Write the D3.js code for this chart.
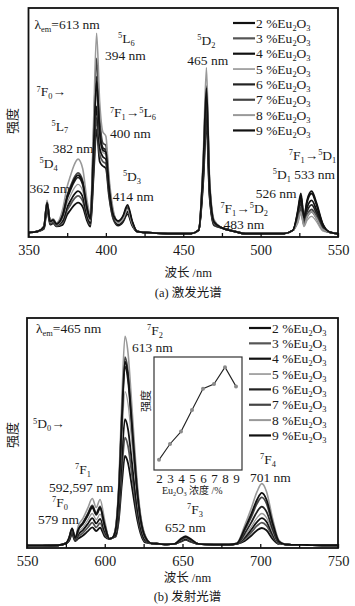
<!DOCTYPE html>
<html>
<head>
<meta charset="utf-8">
<script src="https://cdn.jsdelivr.net/npm/d3@7"></script>
<style>
body { margin: 0; background: #fff; }
svg text { font-family: "Liberation Serif", "Noto Sans CJK SC", serif; fill: #1a1a1a; }
</style>
</head>
<body>
<script>
// legend labels, same for both panels
var seriesLabels = ["2 %Eu_2O_3", "3 %Eu_2O_3", "4 %Eu_2O_3", "5 %Eu_2O_3",
                    "6 %Eu_2O_3", "7 %Eu_2O_3", "8 %Eu_2O_3", "9 %Eu_2O_3"];

// (a) excitation spectra
var excWavelength = [350,356,360,362,364,366,368,372,375,377,379,382,385,388,390,392,394,396,398,400,402,405,408,411,414,417,420,425,440,455,460,463,465,467,470,475,483,490,515,521,524,526,528,530,533,536,540,545,550];
var excS2 = [2,2.5,3.6,12,5.4,6,4.6,5.3,9.8,11.7,13.5,15,13.2,6.8,4.5,25.9,47,33,31,30,18,7.5,5,6.5,10,5,2.5,2,1.5,1.5,3,25,50,17.5,5,4,2.5,1.5,1.5,3,10.8,18,8.1,15.2,19,14.3,5.7,2,1.5];
var excS3 = [2,2.5,3.9,13,5.9,6.5,4.9,6.3,11.7,14,16.2,18,15.8,8.1,5.4,28.6,52,36,33,32,19.2,8,5.5,7.2,11,5.5,2.5,2,1.5,1.5,3,26.5,53,18.6,5.3,4,2.5,1.5,1.5,3,7.2,12,5.4,8.8,11,8.3,3.3,2,1.5];
var excS4 = [2,2.5,4.2,14,6.3,7,5.3,7,13,15.6,18,20,17.6,9,6,31.4,57,39,35,34,20.4,8.5,5.5,7.2,11,5.5,2.5,2,1.5,1.5,3,28,56,19.6,5.6,4,2.5,1.5,1.5,3,9.6,16,7.2,12.8,16,12,4.8,2,1.5];
var excS5 = [2,2.5,4.2,14,6.3,7,5.3,8,15,17.9,20.7,23,20.2,10.4,6.9,34.7,63,43,37,36,21.6,9,6,7.8,12,6,2.5,2,1.5,1.5,3,29.5,59,20.7,5.9,4,2.5,1.5,1.5,3,6,10,4.5,7.2,9,6.8,2.7,2,1.5];
var excS6 = [2,2.5,4.5,15,6.8,7.5,5.7,9.1,16.9,20.3,23.4,26,22.9,11.7,7.8,38.5,70,47,39,38,22.8,9.5,6.5,8.5,13,6.5,2.5,2,1.5,1.5,3,31,62,21.7,6.2,4,2.5,1.5,1.5,3,9,15,6.8,11.2,14,10.5,4.2,2,1.5];
var excS7 = [2,2.5,4.5,15,6.8,7.5,5.7,9.8,18.2,21.8,25.2,28,24.6,12.6,8.4,42.9,78,52,41,40,24,10,6.5,8.5,13,6.5,2.5,2,1.5,1.5,3,33,66,23.1,6.6,4,2.5,1.5,1.5,3,7.8,13,5.9,9.6,12,9,3.6,2,1.5];
var excS8 = [2,2.5,4.8,16,7.2,8,6.1,11.9,22.1,26.5,30.6,34,29.9,15.3,10.2,49,89,59,46,44,26.4,11,6,7.8,12,6,2.5,2,1.5,1.5,3,37,74,25.9,7.4,4,2.5,1.5,1.5,3,6.6,11,5,8.8,11,8.3,3.3,2,1.5];
var excS9 = [2,2.5,4.5,15,6.8,7.5,5.7,9.5,17.6,21.1,24.3,27,23.8,12.2,8.1,37.4,68,46,38,37,22.2,9.3,7,9.1,14,7,2.5,2,1.5,1.5,3,32.5,65,22.8,6.5,4,2.5,1.5,1.5,3,11.4,19,8.6,16,20,15,6,2,1.5];

// (b) emission spectra
var emiWavelength = [550,560,570,575,577,579,581,583,586,589,592,594.5,597,600,603,605,607,609,611,613,615,617,619,621,623,626,630,635,640,645,649,652,655,660,670,680,685,690,694,698,701,704,708,712,716,720,730,740,750];
var emiS2 = [1,1,1.2,2,3,6,3,4.1,5.4,7.2,9,7.4,8.8,5,4,4.5,5,12,28,40,36.8,28.8,20,12,6.4,2.4,2,1.8,1.6,1.8,2.8,3.5,2.8,1.8,1.5,1.5,1.8,3,5.2,7.7,8.7,7.7,3.9,1.8,1.6,1.4,1.3,1.2,1.2];
var emiS3 = [1,1,1.2,2,3.3,6.5,3.3,5,6.6,8.8,11,9,10.8,6,4,4.5,5,14.4,33.6,48,44.2,34.6,24,14.4,7.7,2.9,2,1.8,1.6,1.8,3,3.8,3,1.8,1.5,1.5,1.8,3.9,6.6,9.7,11,9.7,5,1.8,1.6,1.4,1.3,1.2,1.2];
var emiS4 = [1,1,1.2,2,3.5,7,3.5,5.9,7.8,10.4,13,10.7,12.7,7.2,4,4.5,5.6,16.8,39.2,56,51.5,40.3,28,16.8,9,3.4,2,1.8,1.6,1.8,3.2,4,3.2,1.8,1.5,1.5,1.8,4.6,7.8,11.4,13,11.4,5.9,1.8,1.6,1.4,1.3,1.2,1.2];
var emiS5 = [1,1,1.2,2,3.8,7.5,3.8,6.8,9,12,15,12.3,14.7,8.3,4,4.5,6.8,20.4,47.6,68,62.6,49,34,20.4,10.9,4.1,2,1.8,1.6,1.8,3.4,4.3,3.4,1.8,1.5,1.5,1.8,5.3,9,13.2,15,13.2,6.8,1.8,1.6,1.4,1.3,1.2,1.2];
var emiS6 = [1,1,1.2,2,4,8,4,7.9,10.5,14,17.5,14.4,17.2,9.6,4,4.5,7.9,23.7,55.3,79,72.7,56.9,39.5,23.7,12.6,4.7,2,1.8,1.6,1.8,3.7,4.6,3.7,1.8,1.5,1.5,1.8,6.3,10.8,15.8,18,15.8,8.1,2.2,1.6,1.4,1.3,1.2,1.2];
var emiS7 = [1,1,1.2,2,4.2,8.3,4.2,8.3,11.1,14.8,18.5,15.2,18.1,10.2,4,4.5,8.3,24.9,58.1,83,76.4,59.8,41.5,24.9,13.3,5,2,1.8,1.6,1.8,3.8,4.8,3.8,1.8,1.5,1.5,1.8,7.7,13.2,19.4,22,19.4,9.9,2.6,1.6,1.4,1.3,1.2,1.2];
var emiS8 = [1,1,1.2,2,4.3,8.5,4.3,9.7,12.9,17.2,21.5,17.6,21.1,11.8,4,4.5,9.2,27.6,64.4,92,84.6,66.2,46,27.6,14.7,5.5,2,1.8,1.6,1.8,4.2,5.2,4.2,1.8,1.5,1.5,2.2,9.8,16.8,24.6,28,24.6,12.6,3.4,1.6,1.4,1.3,1.2,1.2];
var emiS9 = [1,1,1.2,2,4.3,8.5,4.3,8.1,10.8,14.4,18,14.8,17.6,9.9,4,4.5,8.1,24.3,56.7,81,74.5,58.3,40.5,24.3,13,4.9,2,1.8,1.6,1.8,4,5,4,1.8,1.5,1.5,2,8.4,14.4,21.1,24,21.1,10.8,2.9,1.6,1.4,1.3,1.2,1.2];

// inset: 613 nm intensity vs concentration
var insetConc = [2, 3, 4, 5, 6, 7, 8, 9];
var insetIntensity = [0.09, 0.23, 0.34, 0.53, 0.72, 0.76, 0.91, 0.74];

var excTicks = [350, 400, 450, 500, 550];
var emiTicks = [550, 600, 650, 700, 750];

// annotations in data units (nm, intensity)
var excNotes = [
  ["λ_{em}=613 nm", 353.9, 91], ["^5L_6", 407.8, 84.6], ["394 nm", 399.4, 77.2],
  ["^7F_0→", 355.2, 61.4], ["^7F_1→^5L_6", 402.6, 52.2], ["^5L_7", 364.9, 46.5],
  ["400 nm", 402.6, 43.4], ["382 nm", 365.6, 36.8], ["^5D_4", 357.1, 30.3],
  ["362 nm", 350.6, 19.3], ["^5D_3", 411, 24.6], ["414 nm", 404.5, 15.8],
  ["^5D_2", 459.1, 83.8], ["465 nm", 452.6, 75], ["^7F_1→^5D_1", 518.2, 33.5],
  ["^5D_1 533 nm", 507.8, 25.2], ["526 nm", 496.8, 17.2], ["^7F_1→^5D_2", 474, 10.6],
  ["483 nm", 476, 3.6]
];
var emiNotes = [
  ["λ_{em}=465 nm", 555.8, 93.4], ["^7F_2", 627.2, 92.6], ["613 nm", 617.5, 85.2],
  ["^5D_0→", 553.9, 52], ["^7F_1", 580.9, 32.3], ["592,597 nm", 564.1, 24.5],
  ["^7F_0", 566.1, 17.9], ["579 nm", 557.1, 10.5], ["^7F_4", 699.8, 36.7],
  ["701 nm", 693.4, 28.8], ["^7F_3", 652.9, 14.8], ["652 nm", 638.7, 7]
];

var serif = "'Liberation Serif', 'Noto Sans CJK SC', serif";
var lineColors = ["#111", "#555", "#111", "#9a9a9a", "#222", "#444", "#999", "#111"];
var lineWidths = [1.8, 1.8, 1.8, 1.3, 1.8, 1.8, 1.6, 1.8];

var svg = d3.select("body").append("svg")
  .attr("width", 355).attr("height", 606)
  .attr("font-family", serif);

// text with ^sup and _sub pieces
function richText(sel, str, fs) {
  sel.style("font-family", serif);
  var toks = [], i = 0;
  while (i < str.length) {
    var c = str[i];
    if (c == "^" || c == "_") {
      var t;
      if (str[i+1] == "{") { var j = str.indexOf("}", i); t = str.slice(i+2, j); i = j+1; }
      else { t = str[i+1]; i += 2; }
      toks.push({t: t, k: c == "^" ? "sup" : "sub"});
    } else {
      var j = i;
      while (j < str.length && str[j] != "^" && str[j] != "_") j++;
      toks.push({t: str.slice(i, j), k: "n"});
      i = j;
    }
  }
  var shift = 0;
  toks.forEach(function(tok) {
    var target = tok.k == "sup" ? -0.36 : tok.k == "sub" ? 0.22 : 0;
    sel.append("tspan")
      .attr("dy", ((target - shift) * fs).toFixed(2))
      .style("font-size", (tok.k == "n" ? fs : fs*0.62) + "px")
      .text(tok.t);
    shift = target;
  });
}

function drawPanel(p) {
  var x = d3.scaleLinear().domain(p.xDomain).range([p.left, p.right]);
  var y = d3.scaleLinear().domain([0, 100]).range([p.bottom, p.top]);
  var g = svg.append("g");

  var clipId = "clip" + p.id;
  svg.append("clipPath").attr("id", clipId).append("rect")
    .attr("x", p.left).attr("y", p.top)
    .attr("width", p.right - p.left).attr("height", p.bottom - p.top);

  var line = d3.line()
    .curve(d3.curveMonotoneX)
    .x(function(d) { return x(d[0]); })
    .y(function(d) { return y(d[1]); });

  var gl = g.append("g").attr("clip-path", "url(#" + clipId + ")");
  p.series.forEach(function(vals, k) {
    gl.append("path")
      .datum(p.wl.map(function(w, i) { return [w, vals[i]]; }))
      .attr("d", line)
      .attr("fill", "none")
      .attr("stroke", lineColors[k])
      .attr("stroke-width", lineWidths[k])
      .attr("stroke-linejoin", "round");
  });

  // minor inward ticks every 25 nm
  g.append("g")
    .attr("transform", "translate(0," + p.bottom + ")")
    .call(d3.axisBottom(x).tickValues(d3.range(p.xDomain[0], p.xDomain[1] + 1, 25))
      .tickSizeInner(-4).tickSizeOuter(0).tickFormat(""))
    .call(function(a) { a.select(".domain").remove(); a.selectAll("line").attr("stroke", "#111").attr("stroke-width", 1.3); });

  g.append("g")
    .attr("transform", "translate(0," + p.bottom + ")")
    .call(d3.axisBottom(x).tickValues(p.ticks).tickSize(0).tickPadding(8))
    .attr("font-family", serif)
    .call(function(a) {
      a.select(".domain").remove();
      a.selectAll("text").style("font-size", "14.5px")
        .style("font-family", serif).attr("fill", "#1a1a1a");
    });

  g.append("rect")
    .attr("x", p.left).attr("y", p.top)
    .attr("width", p.right - p.left).attr("height", p.bottom - p.top)
    .attr("fill", "none").attr("stroke", "#111").attr("stroke-width", 1.8);

  p.notes.forEach(function(n) {
    var t = g.append("text").attr("x", x(n[1])).attr("y", y(n[2])).style("font-size", "13.5px");
    richText(t, n[0], 13.5);
  });

  // legend
  var lg = g.append("g").attr("transform", "translate(" + p.legendX + "," + p.legendY + ")");
  seriesLabels.forEach(function(s, k) {
    var row = lg.append("g").attr("transform", "translate(0," + (k * 15.35) + ")");
    row.append("line").attr("x1", 0).attr("x2", 22).attr("y1", 0).attr("y2", 0)
      .attr("stroke", lineColors[k]).attr("stroke-width", lineWidths[k] + 0.4);
    var t = row.append("text").attr("x", 23).attr("y", 4.6).style("font-size", "13.5px");
    richText(t, s, 13.5);
  });

  var cx = (p.left + p.right) / 2 + 5;
  g.append("text").attr("x", cx).attr("y", p.titleY)
    .attr("text-anchor", "middle").style("font-size", "12.5px").style("font-family", serif)
    .text("波长 /nm");
  g.append("text").attr("x", cx).attr("y", p.captionY)
    .attr("text-anchor", "middle").style("font-size", "12.5px").style("font-family", serif)
    .text(p.caption);
  g.append("text")
    .attr("transform", "translate(17," + p.yTitle + ") rotate(-90)")
    .attr("text-anchor", "middle").style("font-size", "13px").text("强度");
  return {x: x, y: y};
}

drawPanel({
  id: "a", left: 28.5, right: 338, top: 8, bottom: 237,
  xDomain: [350, 550], ticks: excTicks, wl: excWavelength,
  series: [excS2, excS3, excS4, excS5, excS6, excS7, excS8, excS9],
  notes: excNotes, legendX: 233, legendY: 23, yTitle: 121,
  titleY: 277, captionY: 297, caption: "(a) 激发光谱"
});

drawPanel({
  id: "b", left: 27, right: 338, top: 318, bottom: 548,
  xDomain: [550, 750], ticks: emiTicks, wl: emiWavelength,
  series: [emiS2, emiS3, emiS4, emiS5, emiS6, emiS7, emiS8, emiS9],
  notes: emiNotes, legendX: 249, legendY: 328, yTitle: 435,
  titleY: 582, captionY: 601, caption: "(b) 发射光谱"
});

// inset
var ix = d3.scaleLinear().domain([2, 9]).range([159, 236]);
var iy = d3.scaleLinear().domain([0, 1]).range([470, 357]);
var ig = svg.append("g");
ig.append("rect").attr("x", 154).attr("y", 357).attr("width", 88).attr("height", 113)
  .attr("fill", "#fff").attr("stroke", "#333").attr("stroke-width", 1.2);
ig.append("path")
  .datum(insetConc.map(function(c, i) { return [c, insetIntensity[i]]; }))
  .attr("d", d3.line().x(function(d) { return ix(d[0]); }).y(function(d) { return iy(d[1]); }))
  .attr("fill", "none").attr("stroke", "#222").attr("stroke-width", 1.1);
ig.selectAll("circle").data(insetConc).enter().append("circle")
  .attr("cx", function(d) { return ix(d); })
  .attr("cy", function(d, i) { return iy(insetIntensity[i]); })
  .attr("r", 2).attr("fill", "#8a8a8a");
ig.append("g").attr("transform", "translate(0,470)")
  .call(d3.axisBottom(ix).tickValues(insetConc).tickSize(0).tickPadding(4).tickFormat(d3.format("d")))
  .call(function(a) {
    a.select(".domain").remove();
    a.selectAll("text").style("font-size", "13px")
      .style("font-family", serif).attr("fill", "#1a1a1a");
  });
var il = ig.append("text").attr("x", 162).attr("y", 494).style("font-size", "10px");
richText(il, "Eu_2O_3 浓度 /%", 10);
ig.append("text").attr("transform", "translate(150,401) rotate(-90)")
  .attr("text-anchor", "middle").style("font-size", "11px").text("强度");
</script>
</body>
</html>
